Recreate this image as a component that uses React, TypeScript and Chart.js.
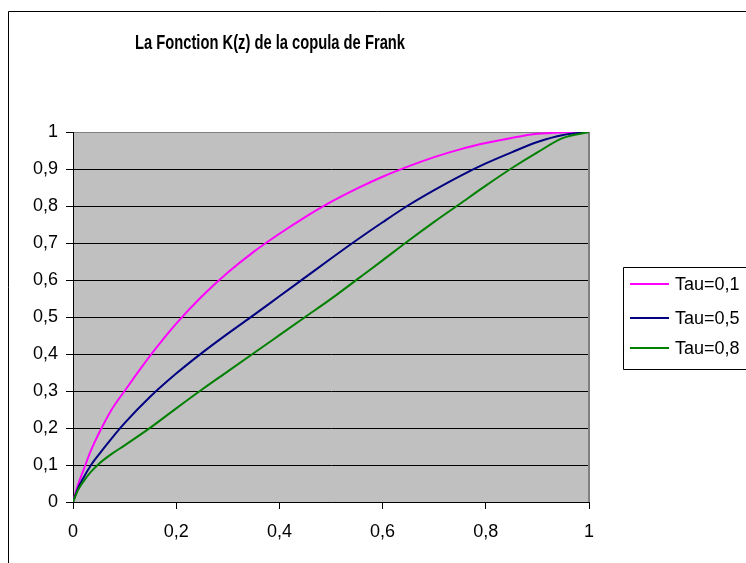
import React, { useEffect, useRef } from "react";
import { Chart, registerables } from "chart.js";

Chart.register(...registerables);

const chartTitle = "La Fonction K(z) de la copula de Frank";
const seriesNames = ["Tau=0,1", "Tau=0,5", "Tau=0,8"];
const seriesColors = ["#FF00FF", "#000080", "#008000"];

const zValues = [0, 0.01, 0.02, 0.035, 0.05, 0.075, 0.1, 0.15, 0.2, 0.25, 0.3, 0.35, 0.4, 0.45, 0.5, 0.55, 0.6, 0.65, 0.7, 0.75, 0.8, 0.85, 0.9, 0.95, 1];
const tau01 = [0, 0.048, 0.085, 0.14, 0.185, 0.25, 0.3, 0.396, 0.482, 0.556, 0.62, 0.676, 0.725, 0.77, 0.811, 0.847, 0.879, 0.907, 0.932, 0.953, 0.97, 0.984, 0.995, 0.999, 1];
const tau05 = [0, 0.038, 0.065, 0.1, 0.128, 0.172, 0.213, 0.285, 0.347, 0.403, 0.455, 0.505, 0.556, 0.607, 0.658, 0.708, 0.756, 0.802, 0.843, 0.881, 0.915, 0.945, 0.973, 0.992, 1];
const tau08 = [0, 0.033, 0.055, 0.082, 0.103, 0.13, 0.153, 0.201, 0.253, 0.304, 0.353, 0.402, 0.451, 0.5, 0.549, 0.601, 0.653, 0.706, 0.757, 0.806, 0.855, 0.902, 0.945, 0.984, 1];

const FONT = "'Liberation Sans', Arial, sans-serif";

const fmt = (v: number | string) => {
  const n = Number(v);
  if (Math.abs(n) < 1e-9) return "0";
  if (Math.abs(n - 1) < 1e-9) return "1";
  return n.toFixed(1).replace(".", ",");
};

const decorPlugin = {
  id: "decor",
  beforeDraw(chart: any) {
    const { ctx, chartArea: a } = chart;
    ctx.save();
    ctx.fillStyle = "#FFFFFF";
    ctx.fillRect(0, 0, chart.width, chart.height);
    ctx.fillStyle = "#C0C0C0";
    ctx.fillRect(a.left, a.top, a.right - a.left, a.bottom - a.top);
    ctx.strokeStyle = "#000000";
    ctx.lineWidth = 1;
    ctx.beginPath();
    ctx.moveTo(8.5, chart.height + 5);
    ctx.lineTo(8.5, 11.5);
    ctx.lineTo(chart.width + 5, 11.5);
    ctx.stroke();
    ctx.restore();
  },
  beforeDatasetsDraw(chart: any) {
    const { ctx, chartArea: a } = chart;
    ctx.save();
    ctx.strokeStyle = "#808080";
    ctx.lineWidth = 2;
    ctx.beginPath();
    ctx.moveTo(a.right, a.top);
    ctx.lineTo(a.right, a.bottom);
    ctx.stroke();
    ctx.restore();
  },
  afterDraw(chart: any) {
    const { ctx } = chart;
    ctx.save();
    ctx.fillStyle = "#000000";
    ctx.font = `bold 20px ${FONT}`;
    ctx.textAlign = "center";
    ctx.textBaseline = "alphabetic";
    ctx.fillText(chartTitle, 270, 49, 270);
    const boxL = 623.5, boxT = 267.5, boxB = 369.5;
    ctx.strokeStyle = "#000000";
    ctx.lineWidth = 1;
    ctx.beginPath();
    ctx.moveTo(chart.width + 5, boxT);
    ctx.lineTo(boxL, boxT);
    ctx.lineTo(boxL, boxB);
    ctx.lineTo(chart.width + 5, boxB);
    ctx.stroke();
    const rows = [284, 318, 348];
    ctx.font = `18px ${FONT}`;
    ctx.textAlign = "left";
    ctx.textBaseline = "middle";
    seriesNames.forEach((name, i) => {
      ctx.strokeStyle = seriesColors[i];
      ctx.lineWidth = 2;
      ctx.beginPath();
      ctx.moveTo(630, rows[i]);
      ctx.lineTo(669, rows[i]);
      ctx.stroke();
      ctx.fillStyle = "#000000";
      ctx.fillText(name, 675, rows[i] + 1);
    });
    ctx.restore();
  },
};

export default function App() {
  const ref = useRef<HTMLCanvasElement | null>(null);

  useEffect(() => {
    if (!ref.current) return;
    const series = [tau01, tau05, tau08];
    const chart = new Chart(ref.current, {
      type: "line",
      data: {
        datasets: series.map((vals, i) => ({
          label: seriesNames[i],
          data: zValues.map((z, j) => ({ x: z, y: vals[j] })),
          borderColor: seriesColors[i],
          backgroundColor: seriesColors[i],
          borderWidth: 2,
          pointRadius: 0,
          cubicInterpolationMode: "monotone",
          fill: false,
          order: 2 - i,
        })),
      },
      options: {
        animation: false,
        responsive: false,
        devicePixelRatio: 1,
        layout: { padding: { left: 0, top: 132, right: 157, bottom: 0 } },
        plugins: {
          legend: { display: false },
          title: { display: false },
          tooltip: { enabled: false },
        },
        scales: {
          x: {
            type: "linear",
            min: 0,
            max: 1,
            afterFit: (s: any) => { s.height = 61; },
            ticks: {
              stepSize: 0.2,
              callback: (v: any) => fmt(v),
              color: "#000000",
              font: { family: FONT, size: 18 },
              padding: 12,
              maxRotation: 0,
            },
            grid: {
              drawOnChartArea: false,
              drawTicks: true,
              tickLength: 7,
              tickColor: "#000000",
            },
            border: { display: true, color: "#000000", width: 1 },
          },
          y: {
            type: "linear",
            min: 0,
            max: 1,
            afterFit: (s: any) => { s.width = 73; },
            ticks: {
              stepSize: 0.1,
              callback: (v: any) => fmt(v),
              color: "#000000",
              font: { family: FONT, size: 18 },
              padding: 8,
            },
            grid: {
              color: (c: any) => (c.tick && Math.abs(c.tick.value - 1) < 1e-9 ? "#808080" : "#000000"),
              lineWidth: 1,
              drawTicks: true,
              tickLength: 7,
              tickColor: "#000000",
            },
            border: { display: true, color: "#000000", width: 1 },
          },
        },
      } as any,
      plugins: [decorPlugin],
    });
    return () => chart.destroy();
  }, []);

  return (
    <div style={{ position: "absolute", left: 0, top: 0, width: 746, height: 563 }}>
      <canvas ref={ref} width={746} height={563} style={{ display: "block", width: 746, height: 563 }} />
    </div>
  );
}
